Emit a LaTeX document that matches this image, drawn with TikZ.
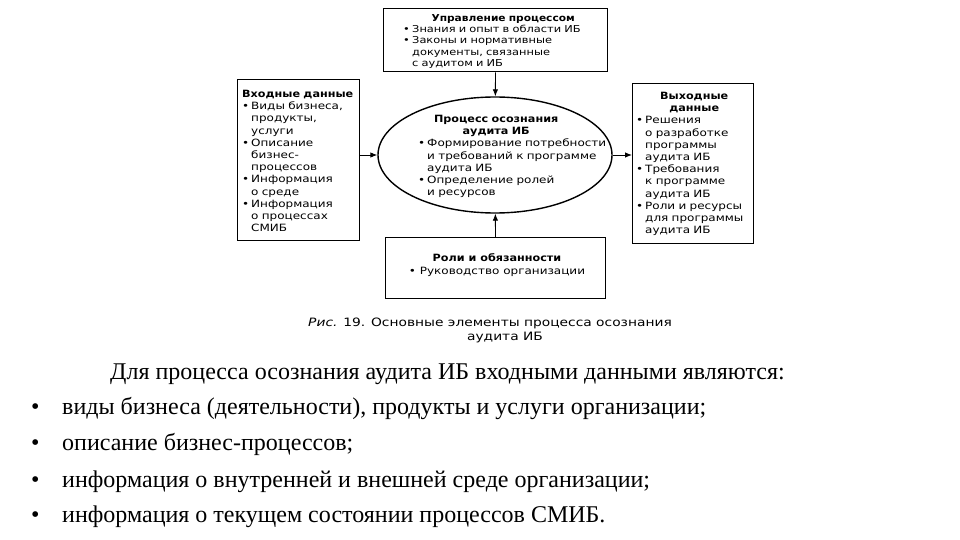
\documentclass[tikz,border=0pt]{standalone}
\usepackage{fontspec}
\setmainfont{Liberation Serif}
\newfontfamily\diag[FakeStretch=1.2, BoldFeatures={FakeStretch=1.12}]{DejaVu Sans}
\usetikzlibrary{arrows.meta,shapes.geometric}
\newcommand{\bl}{\par\hangindent=9pt\hangafter=1\noindent\makebox[9pt][l]{\textbullet}}
\newcommand{\ttl}[1]{{\centering\bfseries #1\par}}
\tikzset{
  box/.style={draw, line width=1.4pt, inner sep=0pt, anchor=north west},
  txt/.style={inner sep=0pt, anchor=north west, align=left, font=\diag\fontsize{10}{12.2}\selectfont},
  arr/.style={line width=0.9pt, -{Latex[length=7pt,width=5.5pt]}},
  body/.style={inner sep=0pt, anchor=base west, font=\fontsize{24}{28}\selectfont},
  captxt/.style={inner sep=0pt, font=\diag\fontsize{11.5}{14}\selectfont},
}
\begin{document}
\begin{tikzpicture}[x=1pt,y=-1pt]
\useasboundingbox (0,0) rectangle (960,540);
\fill[white] (0,0) rectangle (960,540);

% boxes
\node[box, minimum width=224, minimum height=63] (top) at (383,8) {};
\node[box, minimum width=122, minimum height=161] (inp) at (237,79) {};
\node[box, minimum width=121, minimum height=160] (out) at (632,83) {};
\node[box, minimum width=220, minimum height=61] (bot) at (385,237) {};
\node[draw, ellipse, line width=1.4pt, inner sep=0pt, minimum width=234, minimum height=116] (proc) at (495,155) {};

% texts
\node[txt, text width=200, font=\diag\fontsize{9.5}{11.3}\selectfont] (topt) at (403,14) {%
\ttl{Управление процессом}
\bl Знания и опыт в области ИБ
\bl Законы и нормативные\newline документы, связанные\newline с аудитом и ИБ\par};

\node[txt, text width=116] (inpt) at (242,90) {%
\noindent\mbox{\bfseries Входные данные}
\bl Виды бизнеса,\newline продукты,\newline услуги
\bl Описание\newline бизнес-\newline процессов
\bl Информация\newline о среде
\bl Информация\newline о процессах\newline СМИБ\par};

\node[txt, text width=116] (outt) at (636,92) {%
\ttl{Выходные\\данные}
\bl Решения\newline о разработке\newline программы\newline аудита ИБ
\bl Требования\newline к программе\newline аудита ИБ
\bl Роли и ресурсы\newline для программы\newline аудита ИБ\par};

\node[txt, text width=194] (proct) at (418,115) {%
\noindent\makebox[156pt][c]{\bfseries Процесс осознания}\par
\noindent\makebox[156pt][c]{\bfseries аудита ИБ}
\bl Формирование потребности\newline и требований к программе\newline аудита ИБ
\bl Определение ролей\newline и ресурсов\par};

\node[txt, anchor=center, align=center] (bott) at (497,265) {%
\textbf{Роли и обязанности}\\\textbullet\ Руководство организации};

% connectors
\draw[arr] (top) -- (proc);
\draw[arr] (bot) -- (proc);
\draw[arr] (inp.east |- proc.west) -- (proc.west);
\draw[arr] (proc.east) -- (proc.east -| out.west);

% caption
\node[captxt] (cap1) at (490,323) {\textit{Рис.} 19. Основные элементы процесса осознания};
\node[captxt] (cap2) at (505,338) {аудита ИБ};

% body text
\node[body] (p0) at (110,379) {Для процесса осознания аудита ИБ входными данными являются:};
\node[body] (b1) at (31,414) {•};
\node[body] (t1) at (62,414) {виды бизнеса (деятельности), продукты и услуги организации;};
\node[body] (b2) at (31,450) {•};
\node[body] (t2) at (62,450) {описание бизнес-процессов;};
\node[body] (b3) at (31,487) {•};
\node[body] (t3) at (62,487) {информация о внутренней и внешней среде организации;};
\node[body] (b4) at (31,522) {•};
\node[body] (t4) at (62,522) {информация о текущем состоянии процессов СМИБ.};
\end{tikzpicture}
\end{document}
